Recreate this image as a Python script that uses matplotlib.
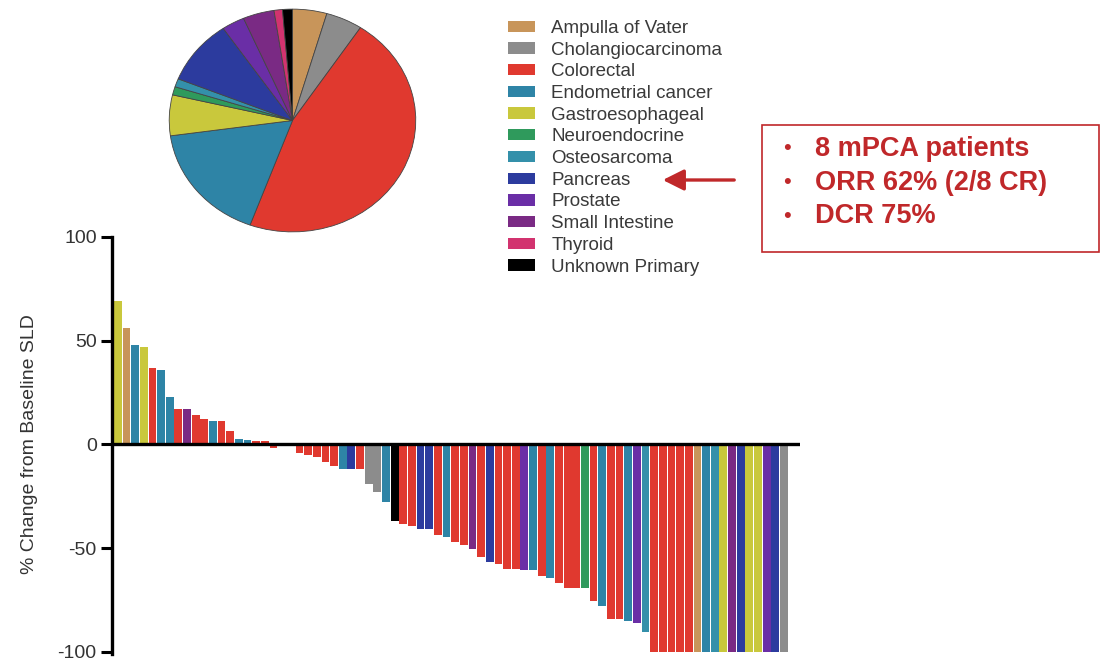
# waterfall + pie of tumour types

import numpy as np
import matplotlib.pyplot as plt
from matplotlib.patches import Patch, Rectangle, FancyArrowPatch

plt.rcParams['font.family'] = ['Liberation Sans', 'DejaVu Sans']
plt.rcParams['axes.unicode_minus'] = False

tumours = ["Ampulla of Vater", "Cholangiocarcinoma", "Colorectal", "Endometrial cancer",
           "Gastroesophageal", "Neuroendocrine", "Osteosarcoma", "Pancreas", "Prostate",
           "Small Intestine", "Thyroid", "Unknown Primary"]
couleurs = ["#c8955a", "#8c8c8c", "#e0392f", "#2e84a6", "#c9c83c", "#2f9a5c",
            "#3490aa", "#2c3b9e", "#6a2ea6", "#7a2a84", "#d2336f", "#000000"]

# pie shares (%), clockwise from 12 o'clock
pie_share = [4.5, 4.8, 46.3, 17.2, 5.9, 1.2, 1.2, 9.4, 3.0, 4.1, 1.1, 1.3]

# waterfall, % change from baseline SLD, one bar per patient
sld_change = [69, 56, 48, 47, 37, 36, 23, 17, 17, 14,
              12.5, 11.5, 11.5, 6.5, 2.8, 2, 1.5, 1.5, -1.6, -0.5,
              -0.8, -4, -5.2, -6.2, -8.4, -10.3, -12, -12, -12, -19,
              -22.7, -27.5, -37, -38.5, -39.3, -40.5, -40.8, -43.4, -44.5, -47,
              -48.6, -50.2, -54.2, -56.6, -57.4, -59.8, -59.8, -60.6, -60.6, -63.4,
              -64.2, -66.6, -69, -69, -69, -75.6, -78, -84, -84, -85,
              -85.8, -90.6, -100, -100, -100, -100, -100, -100, -100, -100,
              -100, -100, -100, -100, -100, -100, -100, -100]
tumour_of_bar = ["Gastroesophageal", "Ampulla of Vater", "Endometrial cancer", "Gastroesophageal", "Colorectal",
                 "Endometrial cancer", "Endometrial cancer", "Colorectal", "Small Intestine", "Colorectal",
                 "Colorectal", "Endometrial cancer", "Colorectal", "Colorectal", "Endometrial cancer",
                 "Endometrial cancer", "Colorectal", "Colorectal", "Colorectal", "Cholangiocarcinoma",
                 "Colorectal", "Colorectal", "Colorectal", "Colorectal", "Colorectal",
                 "Colorectal", "Endometrial cancer", "Pancreas", "Colorectal", "Cholangiocarcinoma",
                 "Cholangiocarcinoma", "Endometrial cancer", "Unknown Primary", "Colorectal", "Colorectal",
                 "Pancreas", "Pancreas", "Colorectal", "Endometrial cancer", "Colorectal",
                 "Colorectal", "Small Intestine", "Colorectal", "Pancreas", "Colorectal",
                 "Colorectal", "Colorectal", "Prostate", "Endometrial cancer", "Colorectal",
                 "Endometrial cancer", "Colorectal", "Colorectal", "Colorectal", "Neuroendocrine",
                 "Colorectal", "Endometrial cancer", "Colorectal", "Colorectal", "Endometrial cancer",
                 "Prostate", "Osteosarcoma", "Colorectal", "Colorectal", "Colorectal",
                 "Colorectal", "Colorectal", "Ampulla of Vater", "Endometrial cancer", "Osteosarcoma",
                 "Gastroesophageal", "Small Intestine", "Pancreas", "Gastroesophageal", "Gastroesophageal",
                 "Prostate", "Pancreas", "Cholangiocarcinoma"]

box_lines = ["8 mPCA patients", "ORR 62% (2/8 CR)", "DCR 75%"]

W, H = 1103, 661
fig = plt.figure(figsize=(W / 100, H / 100), dpi=100)

def fx(px):
    return px / W

def fy(py):
    return 1 - py / H

# ---- waterfall
ax = fig.add_axes([fx(112), fy(652), fx(800) - fx(112), fy(237) - fy(652)])
cmap = dict(zip(tumours, couleurs))
xs = np.arange(len(sld_change))
ax.bar(xs, sld_change, 0.9, color=[cmap[t] for t in tumour_of_bar], linewidth=0)
ax.axhline(0, color="black", lw=2.4, zorder=5)
ax.set_xlim(-0.67, 78.86)
ax.set_ylim(-100, 100)
ax.set_yticks([-100, -50, 0, 50, 100])
ax.set_xticks([])
for s in ["top", "right", "bottom"]:
    ax.spines[s].set_visible(False)
ax.spines["left"].set_linewidth(2.4)
ax.spines["left"].set_bounds(-101, 100)
ax.tick_params(axis="y", length=8, width=2.2, labelsize=14, pad=3, labelcolor="#333333")
ax.set_ylabel("% Change from Baseline SLD", fontsize=14, color="#333333", labelpad=14)

# ---- pie
axp = fig.add_axes([fx(168), fy(233), fx(417) - fx(168), fy(8) - fy(233)])
axp.pie(pie_share, colors=couleurs, startangle=90, counterclock=False,
        wedgeprops=dict(edgecolor="#444444", linewidth=0.6))
axp.set_aspect("auto")
axp.set_xlim(-1.01, 1.01)
axp.set_ylim(-1.01, 1.01)

# ---- legend
handles = [Patch(facecolor=c, edgecolor="none") for c in couleurs]
fig.legend(handles, tumours, loc="upper left", bbox_to_anchor=(fx(508), fy(20)),
           frameon=False, fontsize=13.5, labelcolor="#3a3a3a", handlelength=1.45,
           handleheight=0.55, handletextpad=0.85, labelspacing=0.25, borderpad=0,
           borderaxespad=0)

# ---- annotation box
red = "#c0282a"
fig.add_artist(Rectangle((fx(762), fy(252)), fx(1099) - fx(762), fy(125) - fy(252),
                         transform=fig.transFigure, fill=False, edgecolor=red, lw=1.2))
for k, line in enumerate(box_lines):
    yy = fy(149 + 33.5 * k)
    fig.text(fx(783), yy, "\u2022", color=red, fontsize=16, va="center", ha="left")
    fig.text(fx(815), yy, line, color=red, fontsize=19.5, fontweight="bold", va="center", ha="left")

fig.add_artist(FancyArrowPatch(
    (fx(737), fy(180)), (fx(660), fy(180)), transform=fig.transFigure,
    arrowstyle="-|>,head_length=8,head_width=4", color=red, lw=2.4, mutation_scale=1.6))

fig.savefig("out.png", dpi=100)
